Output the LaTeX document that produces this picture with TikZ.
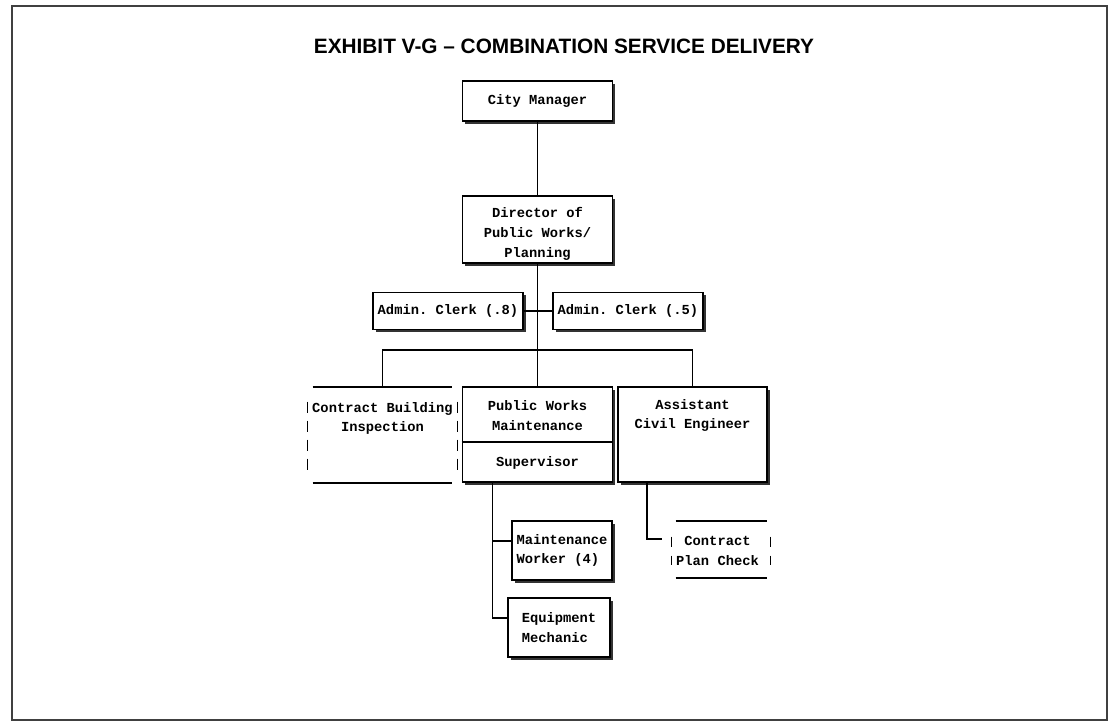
\documentclass[tikz,border=0pt]{standalone}
\usepackage{fontspec}
\setmainfont{Liberation Sans}
\setmonofont{Liberation Mono}
\usetikzlibrary{positioning,shadows}
\newcommand{\orgfont}{\ttfamily\bfseries\fontsize{9.8}{14}\selectfont}
\newcommand{\exhibitfont}{\rmfamily\bfseries\fontsize{14.8}{17}\selectfont}
\tikzset{
  link/.style={line width=1pt},
  orgbox/.style={draw, line width=1.2pt, fill=white, inner xsep=0.5mm, align=center, font=\orgfont,
    drop shadow={shadow xshift=0.7mm, shadow yshift=-0.7mm, fill=black!80, opacity=1}},
  openbox/.style={inner sep=0pt},
  openline/.style={line width=1.2pt},
  dashbar/.style={line width=1.1pt, dash pattern=on 2.75mm off 2mm},
  labeltext/.style={font=\orgfont, align=center, inner sep=0pt},
  titletext/.style={font=\exhibitfont, inner sep=0pt}
}

\begin{document}
\begin{tikzpicture}[x=0.25mm, y=-0.25mm]
  \useasboundingbox (0,0) rectangle (1109,722);
  \draw[line width=1.2pt, black!75] (12,6) rectangle (1107,720);
  \node[titletext] (title) at (564,46) {EXHIBIT V-G -- COMBINATION SERVICE DELIVERY};

  % top levels
  \node[orgbox, minimum width=37.5mm, minimum height=10mm] (city) at (537.5,101) {City Manager};
  \node[orgbox, minimum width=37.5mm, minimum height=16.75mm] (dir) at (537.5,229.5) {};
  \node[labeltext] (dirlabel) at (537.5,234) {Director of\\Public Works/\\Planning};
  \node[orgbox, minimum width=37.5mm, minimum height=9.25mm] (clerka) at (448,311) {Admin. Clerk (.8)};
  \node[orgbox, minimum width=37.5mm, minimum height=9.25mm] (clerkb) at (628,311) {Admin. Clerk (.5)};

  % divisions
  \node[openbox, minimum width=34.75mm, minimum height=24mm] (cbi) at (382.5,435) {};
  \node[labeltext] (cbilabel) at (382.5,418.5) {Contract Building\\Inspection};
  \node[orgbox, minimum width=37.5mm, minimum height=23.75mm] (pwm) at (537.5,434.5) {};
  \node[labeltext] (pwmlabel) at (537.5,415.5) {Public Works\\Maintenance};
  \node[labeltext] (pwmsup) at (537.5,463) {Supervisor};
  \node[orgbox, minimum width=37.25mm, minimum height=23.75mm] (ace) at (692.5,434.5) {};
  \node[labeltext] (acelabel) at (692.5,415.5) {Assistant\\Civil Engineer};

  % bottom level
  \node[orgbox, align=left, minimum width=25mm, minimum height=14.75mm] (mw) at (562,550.5) {Maintenance\\Worker (4)};
  \node[orgbox, align=left, minimum width=25.5mm, minimum height=14.75mm] (em) at (559,627.5) {Equipment\\Mechanic};
  \node[openbox, minimum width=22.75mm, minimum height=14.25mm] (cpc) at (721.5,549.5) {};
  \node[labeltext] (cpclabel) at (717.5,551) {Contract\\Plan Check};

  % open boxes
  \draw[openline] (cbi.north west) -- (cbi.north east);
  \draw[openline] (cbi.south west) -- (cbi.south east);
  \draw[dashbar] ([xshift=-1.25mm, yshift=-3.75mm]cbi.north west) -- ([xshift=-1.25mm, yshift=3.25mm]cbi.south west);
  \draw[dashbar] ([xshift=1.25mm, yshift=-3.75mm]cbi.north east) -- ([xshift=1.25mm, yshift=3.25mm]cbi.south east);
  \draw[openline] (cpc.north west) -- (cpc.north east);
  \draw[openline] (cpc.south west) -- (cpc.south east);
  \draw[dashbar, dash pattern=on 2.5mm off 2.25mm] ([xshift=-1mm, yshift=-4mm]cpc.north west) -- ([xshift=-1mm, yshift=3.25mm]cpc.south west);
  \draw[dashbar, dash pattern=on 2.5mm off 2.25mm] ([xshift=0.75mm, yshift=-4mm]cpc.north east) -- ([xshift=0.75mm, yshift=3.25mm]cpc.south east);
  \draw[openline] ([yshift=-14mm]pwm.north west) -- ([yshift=-14mm]pwm.north east);

  % connectors
  \coordinate (bus) at (537.5,350);
  \draw[link] (city) -- (dir);
  \draw[link] (clerka) -- (clerkb);
  \draw[link] (dir.south) -- (pwm.north);
  \draw[link] (cbi.north) |- (bus) -| (ace.north);
  \draw[link] ([xshift=7.75mm]pwm.south west) |- ([yshift=2.4mm]mw.west);
  \draw[link] ([xshift=7.75mm]pwm.south west) |- ([yshift=2.4mm]em.west);
  \draw[link] ([xshift=7.5mm]ace.south west) |- ([xshift=-3.5mm, yshift=2.6mm]cpc.west);
\end{tikzpicture}
\end{document}
